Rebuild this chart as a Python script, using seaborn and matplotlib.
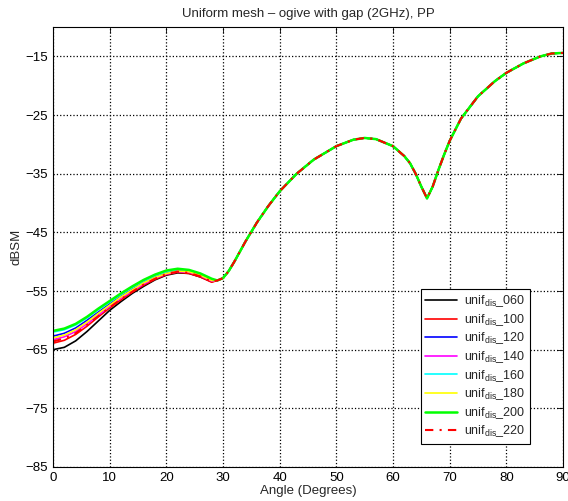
import matplotlib
matplotlib.use('Agg')
import matplotlib.pyplot as plt
import numpy as np
import seaborn as sns

sns.set_theme(style='white')
plt.rcParams['font.family'] = ['Liberation Sans', 'DejaVu Sans']
plt.rcParams['mathtext.fontset'] = 'custom'
plt.rcParams['mathtext.rm'] = 'Liberation Sans'

# angles where the meshes still differ (0..28 deg)
low_angles = [0, 2, 4, 6, 8, 10, 12, 14, 16, 18, 20, 22, 24, 26, 28]
# shared part of the curve (all meshes converged)
tail_angles = [29, 30, 31, 32, 34, 36, 38, 40, 43, 46, 50, 53, 55, 57, 60, 62, 63,
               64, 65, 66, 67, 68, 69, 70, 72, 75, 78, 80, 83, 86, 88, 90]
tail_rcs = [-53.2, -52.8, -51.6, -50.0, -46.5, -43.3, -40.5, -38.0, -35.0, -32.6,
            -30.3, -29.2, -28.9, -29.1, -30.3, -32.0, -33.2, -35.0, -37.2, -39.2,
            -37.2, -34.4, -31.8, -29.4, -25.6, -21.8, -19.2, -17.8, -16.2, -15.0,
            -14.5, -14.4]

labels = ['060', '100', '120', '140', '160', '180', '200', '220']
colors = ['black', 'red', 'blue', 'magenta', 'cyan', 'yellow', 'lime', 'red']
low_rcs = {
    '060': [-65.0, -64.6, -63.5, -61.9, -60.1, -58.3, -56.8, -55.4, -54.2, -53.1, -52.3, -51.9, -52.0, -52.6, -53.4],
    '100': [-63.9, -63.4, -62.4, -61.0, -59.4, -57.9, -56.5, -55.2, -54.0, -53.0, -52.2, -51.8, -52.0, -52.6, -53.5],
    '120': [-62.7, -62.2, -61.3, -60.0, -58.6, -57.2, -55.9, -54.7, -53.5, -52.6, -51.9, -51.5, -51.7, -52.3, -53.1],
    '140': [-63.3, -62.8, -61.9, -60.6, -59.1, -57.6, -56.2, -55.0, -53.8, -52.8, -52.1, -51.7, -51.8, -52.4, -53.3],
    '160': [-62.0, -61.6, -60.8, -59.6, -58.2, -56.9, -55.6, -54.4, -53.3, -52.4, -51.7, -51.3, -51.5, -52.1, -53.0],
    '180': [-63.0, -62.5, -61.6, -60.3, -58.8, -57.4, -56.0, -54.8, -53.6, -52.7, -52.0, -51.6, -51.7, -52.3, -53.2],
    '200': [-61.8, -61.4, -60.6, -59.4, -58.0, -56.7, -55.4, -54.2, -53.1, -52.2, -51.5, -51.2, -51.4, -52.0, -52.9],
    '220': [-63.6, -63.1, -62.2, -60.8, -59.3, -57.8, -56.4, -55.1, -53.9, -52.9, -52.1, -51.7, -51.9, -52.5, -53.4],
}

fig = plt.figure(figsize=(5.68, 5.01), dpi=100)
ax = fig.add_axes([0.0933, 0.0679, 0.8979, 0.878])

angles = low_angles + tail_angles
for lab, col in zip(labels, colors):
    vals = low_rcs[lab] + tail_rcs
    if lab == '220':
        sns.lineplot(x=angles, y=vals, color=col, ax=ax, linewidth=1.5,
                     dashes=(4, 3, 1, 3), label=r'unif$_{\rm dis}$_' + lab, sort=False)
    else:
        sns.lineplot(x=angles, y=vals, color=col, ax=ax,
                     linewidth=1.8 if lab == '200' else 1.2,
                     label=r'unif$_{\rm dis}$_' + lab, sort=False)

ax.set_xlim(0, 90)
ax.set_ylim(-85, -10)
ax.set_xticks(np.arange(0, 91, 10))
ax.set_yticks(np.arange(-85, -14, 10))
ax.grid(True, color='black', linestyle=':', linewidth=0.9)
ax.tick_params(direction='in', top=True, right=True, length=4, labelsize=9.5,
               colors='black', width=0.6)
for s in ax.spines.values():
    s.set_color('black')
    s.set_linewidth(0.8)

ax.set_xlabel('Angle (Degrees)', fontsize=9.5, labelpad=1)
ax.set_ylabel('dBSM', fontsize=9.5, labelpad=2)
ax.set_title('Uniform mesh – ogive with gap (2GHz), PP', fontsize=9.5, pad=7)

leg = ax.legend(loc='upper left', bbox_to_anchor=(0.7216, 0.4045), fontsize=9,
                frameon=True, fancybox=False, framealpha=1, edgecolor='black',
                handlelength=2.5, labelspacing=0.22, borderpad=0.35,
                handletextpad=0.6, borderaxespad=0)
leg.get_frame().set_linewidth(0.8)

plt.savefig('out.png', dpi=100)
